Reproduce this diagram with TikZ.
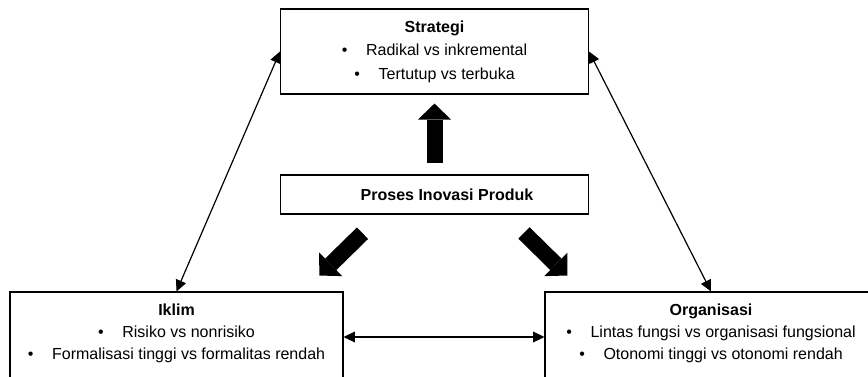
\documentclass[tikz,border=0pt]{standalone}
\usepackage{fontspec}
\setmainfont{Liberation Sans}
\usetikzlibrary{arrows.meta,positioning}
\begin{document}
\begin{tikzpicture}[x=.75pt,y=-.75pt,box/.style={draw,line width=.8pt,inner sep=0pt},
txt/.style={align=center,inner sep=0pt,font=\fontsize{12}{16.5}\selectfont},
link/.style={line width=.9pt,{Triangle[length=8.5pt,width=8pt]}-{Triangle[length=8.5pt,width=8pt]}},
fat/.style={line width=12pt,-{Triangle[length=12pt,width=24.75pt,line width=0pt]}}]
\useasboundingbox (0,0) rectangle (868,376);\clip (0,0) rectangle (868,376);
\node[box,txt,minimum width=231pt,minimum height=63.75pt,font=\fontsize{12}{17.6}\selectfont] (strategi) at (434.5,51.5) {\textbf{Strategi}\\\textbullet\hspace{14pt}Radikal vs inkremental\\\textbullet\hspace{14pt}Tertutup vs terbuka};
\node[box,txt,minimum width=231pt,minimum height=29.25pt,font=\fontsize{12}{14}\selectfont\bfseries] (proses) at (434.5,194.5) {\hspace*{18.75pt}Proses Inovasi Produk};
\node[box,minimum width=249.75pt,minimum height=67.5pt] (iklim) at (176.5,337) {};
\node[txt,below=9pt of iklim.north] (iklimteks) {\textbf{Iklim}\\\textbullet\hspace{14pt}Risiko vs nonrisiko\\\textbullet\hspace{14pt}Formalisasi tinggi vs formalitas rendah};
\node[box,minimum width=249pt,minimum height=67.5pt] (organisasi) at (711,337) {};
\node[txt,below=9pt of organisasi.north] (organisasiteks) {\textbf{Organisasi}\\\textbullet\hspace{14pt}Lintas fungsi vs organisasi fungsional\\\textbullet\hspace{14pt}Otonomi tinggi vs otonomi rendah};
\foreach \a/\b in {iklim.north/strategi.west,strategi.east/organisasi.north,iklim.east/organisasi.west}{\draw[link] (\a)--(\b);}
\draw[fat] ([yshift=8.25pt]proses.north)--([yshift=-6.75pt]strategi.south);
\draw[fat] ([shift={(-54pt,-14pt)}]proses.south)--([shift={(-86.4pt,-45.75pt)}]proses.south);
\draw[fat] ([shift={(67.1pt,-13.8pt)}]proses.south)--([shift={(99.6pt,-45.75pt)}]proses.south);
\end{tikzpicture}
\end{document}
